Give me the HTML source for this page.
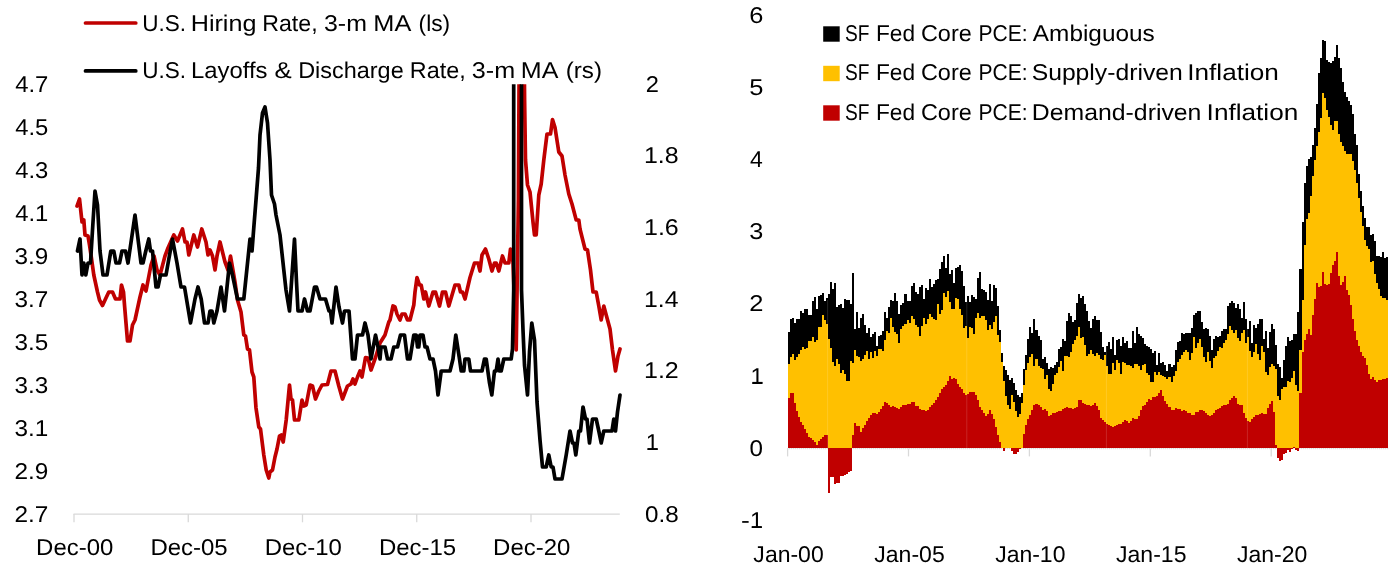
<!DOCTYPE html>
<html><head><meta charset="utf-8"><title>Charts</title>
<style>
html,body{margin:0;padding:0;background:#fff;}
body{width:1397px;height:572px;overflow:hidden;}
svg{display:block;}
text{font-family:"Liberation Sans",sans-serif;font-size:22.8px;fill:#000;text-rendering:geometricPrecision;}
</style></head><body>
<svg width="1397" height="572" viewBox="0 0 1397 572">
<rect width="1397" height="572" fill="#fff"/>
<defs><clipPath id="cl"><rect x="60" y="84.2" width="580" height="440"/></clipPath></defs>

<g stroke="#d9d9d9" stroke-width="1.3" fill="none">
<line x1="73.5" y1="514.1" x2="619.8" y2="514.1"/>
<line x1="74.00" y1="514.1" x2="74.00" y2="522.3"/>
<line x1="188.25" y1="514.1" x2="188.25" y2="522.3"/>
<line x1="302.50" y1="514.1" x2="302.50" y2="522.3"/>
<line x1="416.75" y1="514.1" x2="416.75" y2="522.3"/>
<line x1="531.00" y1="514.1" x2="531.00" y2="522.3"/>
</g>
<g clip-path="url(#cl)" fill="none" stroke-linejoin="round" stroke-linecap="round" stroke-width="3.7">
<polyline stroke="#c00000" points="77.0,206.0 79.5,199.0 82.0,222.0 83.8,220.0 85.0,235.0 88.0,236.0 89.5,245.0 91.0,255.0 93.8,275.0 97.5,292.0 99.5,300.0 102.5,305.5 105.5,299.0 108.8,292.0 112.5,292.0 115.5,299.0 120.0,299.0 121.5,285.0 123.5,292.0 124.5,305.0 127.5,341.0 130.0,341.0 132.5,325.0 135.0,320.0 140.0,297.0 143.0,285.0 146.0,291.0 151.0,265.0 154.0,256.0 157.0,270.0 160.0,275.0 165.0,256.0 168.0,248.0 173.8,235.0 177.5,241.0 182.5,229.0 185.0,242.0 187.0,242.0 188.8,255.0 193.8,235.0 197.5,247.0 201.8,229.0 206.0,242.0 208.0,255.0 210.0,250.0 212.5,256.0 215.0,270.0 217.0,256.0 220.0,242.0 225.0,262.0 228.0,270.0 230.5,256.0 235.0,282.0 237.5,300.0 241.0,312.0 243.8,335.0 245.5,336.0 247.5,349.0 249.5,350.0 252.0,372.0 253.8,377.0 256.0,408.0 258.8,427.0 260.5,429.0 263.8,455.0 266.2,470.0 268.8,478.0 270.0,472.0 272.5,470.0 275.0,457.0 277.0,449.0 279.5,436.0 281.2,435.0 283.2,442.0 286.2,420.0 289.5,385.0 291.0,399.0 292.5,400.0 294.5,420.0 298.8,420.0 302.0,400.0 303.8,406.0 306.2,405.0 310.0,385.0 312.5,386.0 315.5,399.0 318.8,391.0 322.0,385.0 327.5,384.5 331.0,371.0 335.0,371.0 338.8,386.0 342.5,399.0 347.5,386.0 351.0,384.0 353.0,379.0 355.0,384.0 357.5,377.0 360.0,371.0 362.0,377.0 365.5,357.5 368.0,358.0 371.0,370.0 375.5,357.5 380.0,343.0 385.0,335.0 388.8,322.0 390.0,320.0 393.0,306.0 395.0,307.0 397.0,314.0 400.0,320.0 402.0,314.0 405.0,314.0 407.5,320.0 410.0,320.0 413.8,305.0 415.0,292.0 417.0,277.5 419.5,285.0 421.2,285.0 423.8,299.0 425.5,292.0 428.8,306.0 433.0,292.0 435.5,292.0 439.5,306.0 442.5,292.0 445.5,292.0 448.8,306.0 455.0,285.0 458.8,285.0 460.5,292.0 462.5,292.0 465.0,299.0 470.0,277.5 474.5,263.0 478.0,263.0 480.0,271.0 482.0,255.0 485.5,249.0 488.8,259.0 492.0,271.0 494.5,263.0 496.2,263.0 498.8,271.0 502.5,256.0 505.0,263.0 508.8,263.0 510.5,249.0 513.0,262.0 516.2,350.0 518.4,200.0 519.3,40.0 524.0,40.0 524.6,100.0 525.5,160.0 527.5,185.0 530.0,192.0 533.0,222.0 534.5,235.0 536.2,235.0 538.8,195.0 541.2,184.0 543.8,160.0 547.0,134.0 550.5,134.0 552.5,119.5 555.0,127.5 558.8,152.0 562.0,156.0 565.0,175.0 568.8,194.0 572.0,204.0 576.2,220.0 578.8,220.0 580.0,229.0 585.0,249.0 587.5,250.0 590.5,270.0 593.0,292.0 596.2,292.0 598.8,306.0 601.2,320.0 603.8,306.0 606.2,315.0 610.0,329.0 612.5,350.0 615.5,371.0 618.0,356.0 620.0,349.0"/>
<polyline stroke="#000" points="77.5,251.0 80.0,239.0 82.0,275.0 83.8,263.0 85.8,275.0 88.0,263.0 90.5,263.0 93.0,222.0 95.0,191.0 97.5,205.0 100.0,251.0 103.0,275.0 107.0,275.0 110.8,251.0 113.8,251.0 116.0,263.0 119.5,263.0 122.0,251.0 125.5,251.0 128.0,263.0 131.5,239.0 135.0,215.0 138.0,239.0 141.0,263.0 143.0,263.0 145.8,251.0 148.8,239.0 150.5,251.0 152.5,251.0 156.0,287.0 158.0,287.0 160.5,275.0 166.0,275.0 169.0,258.0 172.5,239.0 177.0,263.0 181.0,287.0 184.5,287.0 190.5,323.0 195.0,299.0 198.0,287.0 201.2,299.0 204.5,323.0 208.0,323.0 210.0,311.0 212.0,311.0 213.8,323.0 217.0,311.0 221.0,287.0 224.5,311.0 229.5,263.0 232.5,275.0 237.5,299.0 243.8,299.0 250.0,239.0 252.0,251.0 254.0,225.0 256.0,200.0 258.5,168.0 260.0,135.0 262.5,113.0 265.0,107.0 267.5,123.0 270.0,160.0 271.5,195.0 274.5,204.0 276.0,215.0 280.0,235.0 283.8,270.0 286.0,290.0 289.5,311.0 292.0,275.0 294.5,239.0 296.5,282.0 298.0,311.0 302.0,311.0 304.5,299.0 307.5,311.0 310.0,311.0 314.5,287.0 316.5,287.0 320.0,299.0 325.5,299.0 329.0,311.0 330.5,311.0 332.0,323.0 336.0,287.0 339.0,307.0 342.5,323.0 344.5,311.0 349.0,311.0 352.5,359.0 355.0,359.0 357.5,335.0 362.5,335.0 365.0,323.0 368.0,335.0 371.0,359.0 375.5,335.0 378.0,347.0 380.0,359.0 381.0,347.0 385.0,347.0 387.5,359.0 391.0,359.0 393.8,347.0 397.5,347.0 400.5,335.0 404.5,335.0 407.5,359.0 410.0,359.0 413.8,335.0 416.2,335.0 417.5,347.0 418.8,347.0 420.0,335.0 423.0,335.0 425.0,347.0 427.0,347.0 430.0,359.0 433.0,359.0 435.5,371.0 438.0,395.0 441.2,371.0 450.0,371.0 453.0,359.0 455.8,335.0 459.5,359.0 461.2,371.0 463.8,371.0 465.0,359.0 468.8,359.0 470.5,371.0 482.0,371.0 484.5,359.0 486.2,359.0 489.5,383.0 491.8,395.0 494.5,371.0 496.2,371.0 498.0,359.0 499.5,371.0 501.2,371.0 503.8,359.0 511.2,359.0 512.5,349.0 513.7,290.0 513.7,40.0 521.5,40.0 521.5,290.0 523.0,330.0 524.5,365.0 527.5,395.0 529.5,352.0 531.8,323.0 534.5,340.0 537.0,402.0 540.0,440.0 542.5,467.0 546.2,467.0 548.8,455.0 551.2,467.0 553.0,467.0 555.0,479.0 562.0,479.0 566.2,455.0 570.0,431.0 572.5,443.0 574.0,443.0 575.8,455.0 578.8,431.0 580.5,431.0 583.0,407.0 585.5,419.0 587.0,419.0 589.5,443.0 592.5,419.0 596.2,419.0 598.8,431.0 601.2,443.0 603.8,431.0 612.0,431.0 613.8,419.0 615.5,431.0 617.5,412.0 620.0,395.0"/>
</g>
<g fill="none" stroke-linecap="round" stroke-width="3.7">
<line x1="85.5" y1="23" x2="135.8" y2="23" stroke="#c00000"/>
<line x1="85.5" y1="70.9" x2="135.8" y2="70.9" stroke="#000"/>
</g>
<g shape-rendering="crispEdges">
<path d="M787.60,448.0L787.60,331.7L789.62,331.7L789.62,319.3L791.63,319.3L791.63,318.1L793.65,318.1L793.65,322.5L795.66,322.5L795.66,319.0L797.68,319.0L797.68,318.9L799.69,318.9L799.69,310.9L801.71,310.9L801.71,312.7L803.72,312.7L803.72,309.0L805.74,309.0L805.74,308.8L807.75,308.8L807.75,315.0L809.77,315.0L809.77,315.2L811.78,315.2L811.78,301.2L813.80,301.2L813.80,296.5L815.81,296.5L815.81,308.8L817.83,308.8L817.83,296.1L819.84,296.1L819.84,294.7L821.86,294.7L821.86,292.9L823.88,292.9L823.88,300.8L825.89,300.8L825.89,298.4L827.91,298.4L827.91,293.9L829.92,293.9L829.92,282.3L831.94,282.3L831.94,289.0L833.95,289.0L833.95,283.4L835.97,283.4L835.97,307.2L837.98,307.2L837.98,305.0L840.00,305.0L840.00,303.6L842.01,303.6L842.01,308.0L844.03,308.0L844.03,299.4L846.04,299.4L846.04,299.6L848.06,299.6L848.06,300.4L850.07,300.4L850.07,304.3L852.09,304.3L852.09,272.6L854.10,272.6L854.10,328.7L856.12,328.7L856.12,312.4L858.14,312.4L858.14,327.6L860.15,327.6L860.15,317.7L862.17,317.7L862.17,313.5L864.18,313.5L864.18,325.2L866.20,325.2L866.20,333.4L868.21,333.4L868.21,328.2L870.23,328.2L870.23,336.9L872.24,336.9L872.24,333.5L874.26,333.5L874.26,332.4L876.27,332.4L876.27,346.2L878.29,346.2L878.29,335.9L880.30,335.9L880.30,334.6L882.32,334.6L882.32,331.3L884.33,331.3L884.33,312.0L886.35,312.0L886.35,318.0L888.37,318.0L888.37,306.9L890.38,306.9L890.38,299.9L892.40,299.9L892.40,301.4L894.41,301.4L894.41,292.9L896.43,292.9L896.43,300.8L898.44,300.8L898.44,314.4L900.46,314.4L900.46,305.2L902.47,305.2L902.47,302.9L904.49,302.9L904.49,294.0L906.50,294.0L906.50,301.4L908.52,301.4L908.52,300.7L910.53,300.7L910.53,285.7L912.55,285.7L912.55,283.1L914.56,283.1L914.56,292.0L916.58,292.0L916.58,294.2L918.59,294.2L918.59,287.2L920.61,287.2L920.61,284.7L922.63,284.7L922.63,298.5L924.64,298.5L924.64,287.5L926.66,287.5L926.66,290.0L928.67,290.0L928.67,278.8L930.69,278.8L930.69,287.3L932.70,287.3L932.70,283.6L934.72,283.6L934.72,280.3L936.73,280.3L936.73,279.4L938.75,279.4L938.75,269.2L940.76,269.2L940.76,262.4L942.78,262.4L942.78,255.8L944.79,255.8L944.79,267.7L946.81,267.7L946.81,253.6L948.82,253.6L948.82,274.3L950.84,274.3L950.84,270.2L952.85,270.2L952.85,282.6L954.87,282.6L954.87,268.3L956.89,268.3L956.89,267.4L958.90,267.4L958.90,265.4L960.92,265.4L960.92,271.4L962.93,271.4L962.93,285.7L964.95,285.7L964.95,302.1L966.96,302.1L966.96,296.0L968.98,296.0L968.98,302.0L970.99,302.0L970.99,294.5L973.01,294.5L973.01,296.6L975.02,296.6L975.02,298.5L977.04,298.5L977.04,277.5L979.05,277.5L979.05,272.2L981.07,272.2L981.07,289.4L983.08,289.4L983.08,290.4L985.10,290.4L985.10,292.4L987.11,292.4L987.11,300.2L989.13,300.2L989.13,284.1L991.15,284.1L991.15,301.4L993.16,301.4L993.16,284.9L995.18,284.9L995.18,288.0L997.19,288.0L997.19,305.9L999.21,305.9L999.21,330.1L1001.22,330.1L1001.22,353.3L1003.24,353.3L1003.24,365.9L1005.25,365.9L1005.25,370.0L1007.27,370.0L1007.27,375.3L1009.28,375.3L1009.28,379.6L1011.30,379.6L1011.30,377.6L1013.31,377.6L1013.31,383.4L1015.33,383.4L1015.33,389.9L1017.34,389.9L1017.34,395.4L1019.36,395.4L1019.36,397.0L1021.37,397.0L1021.37,392.7L1023.39,392.7L1023.39,368.6L1025.41,368.6L1025.41,355.4L1027.42,355.4L1027.42,339.4L1029.44,339.4L1029.44,327.3L1031.45,327.3L1031.45,333.1L1033.47,333.1L1033.47,318.9L1035.48,318.9L1035.48,330.2L1037.50,330.2L1037.50,335.7L1039.51,335.7L1039.51,340.2L1041.53,340.2L1041.53,358.7L1043.54,358.7L1043.54,356.9L1045.56,356.9L1045.56,362.9L1047.57,362.9L1047.57,368.8L1049.59,368.8L1049.59,366.7L1051.60,366.7L1051.60,368.4L1053.62,368.4L1053.62,364.7L1055.63,364.7L1055.63,362.3L1057.65,362.3L1057.65,349.2L1059.67,349.2L1059.67,347.1L1061.68,347.1L1061.68,339.0L1063.70,339.0L1063.70,341.1L1065.71,341.1L1065.71,320.8L1067.73,320.8L1067.73,312.8L1069.74,312.8L1069.74,315.7L1071.76,315.7L1071.76,321.6L1073.77,321.6L1073.77,320.3L1075.79,320.3L1075.79,303.1L1077.80,303.1L1077.80,293.8L1079.82,293.8L1079.82,298.1L1081.83,298.1L1081.83,295.9L1083.85,295.9L1083.85,304.4L1085.86,304.4L1085.86,311.1L1087.88,311.1L1087.88,320.7L1089.89,320.7L1089.89,327.7L1091.91,327.7L1091.91,318.7L1093.93,318.7L1093.93,315.5L1095.94,315.5L1095.94,319.5L1097.96,319.5L1097.96,320.2L1099.97,320.2L1099.97,331.9L1101.99,331.9L1101.99,347.3L1104.00,347.3L1104.00,352.0L1106.02,352.0L1106.02,346.2L1108.03,346.2L1108.03,342.3L1110.05,342.3L1110.05,349.0L1112.06,349.0L1112.06,336.5L1114.08,336.5L1114.08,354.5L1116.09,354.5L1116.09,339.5L1118.11,339.5L1118.11,338.6L1120.12,338.6L1120.12,346.1L1122.14,346.1L1122.14,336.7L1124.16,336.7L1124.16,343.3L1126.17,343.3L1126.17,340.7L1128.19,340.7L1128.19,348.1L1130.20,348.1L1130.20,348.2L1132.22,348.2L1132.22,330.5L1134.23,330.5L1134.23,342.8L1136.25,342.8L1136.25,327.0L1138.26,327.0L1138.26,333.8L1140.28,333.8L1140.28,336.0L1142.29,336.0L1142.29,337.6L1144.31,337.6L1144.31,343.5L1146.32,343.5L1146.32,345.5L1148.34,345.5L1148.34,346.6L1150.35,346.6L1150.35,348.9L1152.37,348.9L1152.37,353.1L1154.38,353.1L1154.38,350.8L1156.40,350.8L1156.40,364.5L1158.42,364.5L1158.42,352.9L1160.43,352.9L1160.43,363.4L1162.45,363.4L1162.45,362.2L1164.46,362.2L1164.46,365.3L1166.48,365.3L1166.48,370.6L1168.49,370.6L1168.49,364.2L1170.51,364.2L1170.51,367.3L1172.52,367.3L1172.52,365.1L1174.54,365.1L1174.54,350.2L1176.55,350.2L1176.55,341.9L1178.57,341.9L1178.57,341.1L1180.58,341.1L1180.58,333.2L1182.60,333.2L1182.60,333.7L1184.61,333.7L1184.61,333.4L1186.63,333.4L1186.63,332.5L1188.64,332.5L1188.64,332.6L1190.66,332.6L1190.66,328.3L1192.68,328.3L1192.68,315.3L1194.69,315.3L1194.69,313.3L1196.71,313.3L1196.71,311.2L1198.72,311.2L1198.72,310.6L1200.74,310.6L1200.74,322.3L1202.75,322.3L1202.75,329.4L1204.77,329.4L1204.77,328.3L1206.78,328.3L1206.78,328.9L1208.80,328.9L1208.80,336.3L1210.81,336.3L1210.81,349.8L1212.83,349.8L1212.83,339.1L1214.84,339.1L1214.84,336.1L1216.86,336.1L1216.86,337.1L1218.87,337.1L1218.87,335.6L1220.89,335.6L1220.89,330.6L1222.90,330.6L1222.90,328.5L1224.92,328.5L1224.92,328.8L1226.94,328.8L1226.94,305.5L1228.95,305.5L1228.95,303.2L1230.97,303.2L1230.97,301.3L1232.98,301.3L1232.98,303.2L1235.00,303.2L1235.00,308.4L1237.01,308.4L1237.01,303.7L1239.03,303.7L1239.03,309.2L1241.04,309.2L1241.04,318.2L1243.06,318.2L1243.06,302.0L1245.07,302.0L1245.07,318.9L1247.09,318.9L1247.09,328.6L1249.10,328.6L1249.10,320.7L1251.12,320.7L1251.12,343.4L1253.13,343.4L1253.13,325.0L1255.15,325.0L1255.15,328.0L1257.16,328.0L1257.16,324.2L1259.18,324.2L1259.18,319.2L1261.20,319.2L1261.20,318.5L1263.21,318.5L1263.21,339.3L1265.23,339.3L1265.23,331.0L1267.24,331.0L1267.24,348.2L1269.26,348.2L1269.26,331.8L1271.27,331.8L1271.27,324.4L1273.29,324.4L1273.29,329.1L1275.30,329.1L1275.30,344.9L1277.32,344.9L1277.32,364.0L1279.33,364.0L1279.33,366.9L1281.35,366.9L1281.35,378.1L1283.36,378.1L1283.36,359.7L1285.38,359.7L1285.38,346.4L1287.39,346.4L1287.39,336.8L1289.41,336.8L1289.41,340.9L1291.42,340.9L1291.42,339.8L1293.44,339.8L1293.44,333.7L1295.46,333.7L1295.46,334.1L1297.47,334.1L1297.47,312.4L1299.49,312.4L1299.49,269.1L1301.50,269.1L1301.50,222.1L1303.52,222.1L1303.52,182.9L1305.53,182.9L1305.53,165.7L1307.55,165.7L1307.55,159.2L1309.56,159.2L1309.56,157.0L1311.58,157.0L1311.58,145.0L1313.59,145.0L1313.59,127.9L1315.61,127.9L1315.61,103.9L1317.62,103.9L1317.62,72.8L1319.64,72.8L1319.64,57.5L1321.65,57.5L1321.65,40.4L1323.67,40.4L1323.67,40.9L1325.69,40.9L1325.69,60.0L1327.70,60.0L1327.70,62.3L1329.72,62.3L1329.72,62.8L1331.73,62.8L1331.73,61.2L1333.75,61.2L1333.75,56.6L1335.76,56.6L1335.76,44.9L1337.78,44.9L1337.78,57.6L1339.79,57.6L1339.79,68.1L1341.81,68.1L1341.81,81.7L1343.82,81.7L1343.82,92.1L1345.84,92.1L1345.84,96.6L1347.85,96.6L1347.85,101.1L1349.87,101.1L1349.87,105.3L1351.88,105.3L1351.88,113.5L1353.90,113.5L1353.90,133.6L1355.91,133.6L1355.91,144.5L1357.93,144.5L1357.93,173.8L1359.95,173.8L1359.95,190.8L1361.96,190.8L1361.96,205.9L1363.98,205.9L1363.98,218.0L1365.99,218.0L1365.99,226.6L1368.01,226.6L1368.01,227.2L1370.02,227.2L1370.02,234.5L1372.04,234.5L1372.04,234.0L1374.05,234.0L1374.05,241.3L1376.07,241.3L1376.07,255.6L1378.08,255.6L1378.08,255.6L1380.10,255.6L1380.10,257.1L1382.11,257.1L1382.11,251.9L1384.13,251.9L1384.13,257.5L1386.14,257.5L1386.14,257.3L1388.16,257.3L1388.16,257.2L1388.20,257.2L1388.20,448.0Z" fill="#000"/>
<path d="M787.60,448.0L787.60,363.9L789.62,363.9L789.62,356.5L791.63,356.5L791.63,354.2L793.65,354.2L793.65,359.9L795.66,359.9L795.66,356.9L797.68,356.9L797.68,353.8L799.69,353.8L799.69,349.6L801.71,349.6L801.71,346.9L803.72,346.9L803.72,348.8L805.74,348.8L805.74,347.6L807.75,347.6L807.75,341.2L809.77,341.2L809.77,340.8L811.78,340.8L811.78,337.0L813.80,337.0L813.80,342.0L815.81,342.0L815.81,340.0L817.83,340.0L817.83,326.8L819.84,326.8L819.84,327.1L821.86,327.1L821.86,315.0L823.88,315.0L823.88,320.0L825.89,320.0L825.89,323.7L827.91,323.7L827.91,338.9L829.92,338.9L829.92,347.6L831.94,347.6L831.94,362.1L833.95,362.1L833.95,365.7L835.97,365.7L835.97,359.4L837.98,359.4L837.98,363.7L840.00,363.7L840.00,373.4L842.01,373.4L842.01,369.9L844.03,369.9L844.03,373.8L846.04,373.8L846.04,380.6L848.06,380.6L848.06,380.8L850.07,380.8L850.07,361.0L852.09,361.0L852.09,363.0L854.10,363.0L854.10,349.8L856.12,349.8L856.12,356.0L858.14,356.0L858.14,357.4L860.15,357.4L860.15,360.5L862.17,360.5L862.17,358.6L864.18,358.6L864.18,354.7L866.20,354.7L866.20,350.9L868.21,350.9L868.21,358.5L870.23,358.5L870.23,352.1L872.24,352.1L872.24,357.9L874.26,357.9L874.26,350.8L876.27,350.8L876.27,356.4L878.29,356.4L878.29,349.2L880.30,349.2L880.30,348.5L882.32,348.5L882.32,351.3L884.33,351.3L884.33,340.4L886.35,340.4L886.35,331.3L888.37,331.3L888.37,332.5L890.38,332.5L890.38,318.1L892.40,318.1L892.40,326.9L894.41,326.9L894.41,332.0L896.43,332.0L896.43,333.9L898.44,333.9L898.44,343.2L900.46,343.2L900.46,329.0L902.47,329.0L902.47,325.7L904.49,325.7L904.49,324.0L906.50,324.0L906.50,319.5L908.52,319.5L908.52,323.4L910.53,323.4L910.53,316.0L912.55,316.0L912.55,319.3L914.56,319.3L914.56,325.3L916.58,325.3L916.58,327.2L918.59,327.2L918.59,335.5L920.61,335.5L920.61,326.1L922.63,326.1L922.63,318.2L924.64,318.2L924.64,323.7L926.66,323.7L926.66,318.7L928.67,318.7L928.67,313.6L930.69,313.6L930.69,316.7L932.70,316.7L932.70,318.6L934.72,318.6L934.72,319.5L936.73,319.5L936.73,303.8L938.75,303.8L938.75,313.6L940.76,313.6L940.76,309.5L942.78,309.5L942.78,292.5L944.79,292.5L944.79,297.2L946.81,297.2L946.81,290.5L948.82,290.5L948.82,301.7L950.84,301.7L950.84,308.7L952.85,308.7L952.85,308.5L954.87,308.5L954.87,298.0L956.89,298.0L956.89,299.0L958.90,299.0L958.90,309.3L960.92,309.3L960.92,315.1L962.93,315.1L962.93,327.5L964.95,327.5L964.95,325.6L966.96,325.6L966.96,337.7L968.98,337.7L968.98,327.1L970.99,327.1L970.99,327.5L973.01,327.5L973.01,333.6L975.02,333.6L975.02,318.4L977.04,318.4L977.04,312.8L979.05,312.8L979.05,317.9L981.07,317.9L981.07,315.9L983.08,315.9L983.08,315.5L985.10,315.5L985.10,320.3L987.11,320.3L987.11,329.5L989.13,329.5L989.13,325.2L991.15,325.2L991.15,329.0L993.16,329.0L993.16,322.0L995.18,322.0L995.18,316.2L997.19,316.2L997.19,335.2L999.21,335.2L999.21,342.1L1001.22,342.1L1001.22,361.5L1003.24,361.5L1003.24,380.5L1005.25,380.5L1005.25,395.7L1007.27,395.7L1007.27,405.1L1009.28,405.1L1009.28,409.1L1011.30,409.1L1011.30,395.1L1013.31,395.1L1013.31,402.1L1015.33,402.1L1015.33,411.0L1017.34,411.0L1017.34,417.2L1019.36,417.2L1019.36,414.3L1021.37,414.3L1021.37,402.7L1023.39,402.7L1023.39,384.7L1025.41,384.7L1025.41,369.6L1027.42,369.6L1027.42,363.2L1029.44,363.2L1029.44,356.5L1031.45,356.5L1031.45,353.8L1033.47,353.8L1033.47,365.7L1035.48,365.7L1035.48,358.5L1037.50,358.5L1037.50,366.4L1039.51,366.4L1039.51,368.3L1041.53,368.3L1041.53,369.2L1043.54,369.2L1043.54,378.7L1045.56,378.7L1045.56,374.8L1047.57,374.8L1047.57,389.1L1049.59,389.1L1049.59,391.2L1051.60,391.2L1051.60,383.5L1053.62,383.5L1053.62,374.7L1055.63,374.7L1055.63,373.2L1057.65,373.2L1057.65,366.7L1059.67,366.7L1059.67,360.8L1061.68,360.8L1061.68,370.9L1063.70,370.9L1063.70,355.6L1065.71,355.6L1065.71,356.0L1067.73,356.0L1067.73,357.2L1069.74,357.2L1069.74,351.9L1071.76,351.9L1071.76,343.9L1073.77,343.9L1073.77,340.0L1075.79,340.0L1075.79,335.7L1077.80,335.7L1077.80,326.8L1079.82,326.8L1079.82,337.9L1081.83,337.9L1081.83,337.1L1083.85,337.1L1083.85,345.4L1085.86,345.4L1085.86,355.5L1087.88,355.5L1087.88,353.7L1089.89,353.7L1089.89,350.0L1091.91,350.0L1091.91,353.7L1093.93,353.7L1093.93,355.6L1095.94,355.6L1095.94,353.3L1097.96,353.3L1097.96,355.1L1099.97,355.1L1099.97,359.0L1101.99,359.0L1101.99,360.1L1104.00,360.1L1104.00,355.0L1106.02,355.0L1106.02,365.5L1108.03,365.5L1108.03,374.3L1110.05,374.3L1110.05,374.0L1112.06,374.0L1112.06,363.4L1114.08,363.4L1114.08,369.6L1116.09,369.6L1116.09,360.4L1118.11,360.4L1118.11,362.6L1120.12,362.6L1120.12,373.5L1122.14,373.5L1122.14,361.8L1124.16,361.8L1124.16,363.1L1126.17,363.1L1126.17,364.9L1128.19,364.9L1128.19,365.0L1130.20,365.0L1130.20,366.3L1132.22,366.3L1132.22,368.0L1134.23,368.0L1134.23,363.9L1136.25,363.9L1136.25,363.9L1138.26,363.9L1138.26,365.6L1140.28,365.6L1140.28,370.2L1142.29,370.2L1142.29,364.5L1144.31,364.5L1144.31,363.5L1146.32,363.5L1146.32,373.4L1148.34,373.4L1148.34,374.7L1150.35,374.7L1150.35,381.7L1152.37,381.7L1152.37,381.7L1154.38,381.7L1154.38,372.1L1156.40,372.1L1156.40,374.8L1158.42,374.8L1158.42,371.6L1160.43,371.6L1160.43,375.0L1162.45,375.0L1162.45,376.1L1164.46,376.1L1164.46,376.6L1166.48,376.6L1166.48,379.4L1168.49,379.4L1168.49,376.5L1170.51,376.5L1170.51,382.3L1172.52,382.3L1172.52,376.3L1174.54,376.3L1174.54,370.7L1176.55,370.7L1176.55,362.4L1178.57,362.4L1178.57,359.3L1180.58,359.3L1180.58,354.9L1182.60,354.9L1182.60,352.1L1184.61,352.1L1184.61,349.9L1186.63,349.9L1186.63,351.8L1188.64,351.8L1188.64,359.8L1190.66,359.8L1190.66,352.9L1192.68,352.9L1192.68,336.8L1194.69,336.8L1194.69,348.4L1196.71,348.4L1196.71,343.2L1198.72,343.2L1198.72,338.9L1200.74,338.9L1200.74,346.9L1202.75,346.9L1202.75,356.8L1204.77,356.8L1204.77,361.5L1206.78,361.5L1206.78,352.0L1208.80,352.0L1208.80,361.0L1210.81,361.0L1210.81,367.5L1212.83,367.5L1212.83,358.1L1214.84,358.1L1214.84,355.6L1216.86,355.6L1216.86,351.0L1218.87,351.0L1218.87,347.1L1220.89,347.1L1220.89,347.6L1222.90,347.6L1222.90,342.9L1224.92,342.9L1224.92,339.9L1226.94,339.9L1226.94,334.3L1228.95,334.3L1228.95,326.4L1230.97,326.4L1230.97,329.9L1232.98,329.9L1232.98,332.5L1235.00,332.5L1235.00,329.6L1237.01,329.6L1237.01,338.2L1239.03,338.2L1239.03,341.4L1241.04,341.4L1241.04,333.3L1243.06,333.3L1243.06,329.7L1245.07,329.7L1245.07,343.4L1247.09,343.4L1247.09,337.3L1249.10,337.3L1249.10,350.9L1251.12,350.9L1251.12,356.5L1253.13,356.5L1253.13,352.0L1255.15,352.0L1255.15,344.4L1257.16,344.4L1257.16,353.6L1259.18,353.6L1259.18,360.1L1261.20,360.1L1261.20,345.6L1263.21,345.6L1263.21,351.8L1265.23,351.8L1265.23,371.8L1267.24,371.8L1267.24,375.0L1269.26,375.0L1269.26,366.9L1271.27,366.9L1271.27,363.5L1273.29,363.5L1273.29,366.4L1275.30,366.4L1275.30,369.0L1277.32,369.0L1277.32,396.0L1279.33,396.0L1279.33,399.8L1281.35,399.8L1281.35,388.5L1283.36,388.5L1283.36,387.0L1285.38,387.0L1285.38,387.3L1287.39,387.3L1287.39,381.4L1289.41,381.4L1289.41,381.8L1291.42,381.8L1291.42,377.7L1293.44,377.7L1293.44,371.3L1295.46,371.3L1295.46,384.8L1297.47,384.8L1297.47,390.6L1299.49,390.6L1299.49,350.3L1301.50,350.3L1301.50,299.9L1303.52,299.9L1303.52,245.0L1305.53,245.0L1305.53,219.4L1307.55,219.4L1307.55,212.9L1309.56,212.9L1309.56,196.1L1311.58,196.1L1311.58,175.9L1313.59,175.9L1313.59,160.0L1315.61,160.0L1315.61,146.1L1317.62,146.1L1317.62,131.9L1319.64,131.9L1319.64,118.1L1321.65,118.1L1321.65,93.4L1323.67,93.4L1323.67,97.8L1325.69,97.8L1325.69,110.2L1327.70,110.2L1327.70,116.8L1329.72,116.8L1329.72,124.7L1331.73,124.7L1331.73,129.6L1333.75,129.6L1333.75,120.8L1335.76,120.8L1335.76,120.5L1337.78,120.5L1337.78,134.3L1339.79,134.3L1339.79,142.1L1341.81,142.1L1341.81,146.4L1343.82,146.4L1343.82,151.0L1345.84,151.0L1345.84,153.5L1347.85,153.5L1347.85,153.7L1349.87,153.7L1349.87,153.7L1351.88,153.7L1351.88,160.6L1353.90,160.6L1353.90,170.2L1355.91,170.2L1355.91,182.6L1357.93,182.6L1357.93,197.6L1359.95,197.6L1359.95,212.0L1361.96,212.0L1361.96,225.6L1363.98,225.6L1363.98,239.5L1365.99,239.5L1365.99,246.2L1368.01,246.2L1368.01,248.9L1370.02,248.9L1370.02,261.7L1372.04,261.7L1372.04,260.9L1374.05,260.9L1374.05,274.4L1376.07,274.4L1376.07,283.2L1378.08,283.2L1378.08,288.8L1380.10,288.8L1380.10,296.3L1382.11,296.3L1382.11,297.7L1384.13,297.7L1384.13,298.2L1386.14,298.2L1386.14,300.1L1388.16,300.1L1388.16,299.2L1388.20,299.2L1388.20,448.0Z" fill="#ffc000"/>
<path d="M787.60,448.0L787.60,398.0L789.62,398.0L789.62,393.2L791.63,393.2L791.63,392.5L793.65,392.5L793.65,402.8L795.66,402.8L795.66,411.3L797.68,411.3L797.68,416.7L799.69,416.7L799.69,421.6L801.71,421.6L801.71,425.0L803.72,425.0L803.72,429.4L805.74,429.4L805.74,433.3L807.75,433.3L807.75,436.6L809.77,436.6L809.77,438.0L811.78,438.0L811.78,440.0L813.80,440.0L813.80,442.0L815.81,442.0L815.81,444.6L817.83,444.6L817.83,441.4L819.84,441.4L819.84,438.5L821.86,438.5L821.86,436.8L823.88,436.8L823.88,435.1L825.89,435.1L825.89,435.3L827.91,435.3L827.91,448.0L829.92,448.0L829.92,448.0L831.94,448.0L831.94,448.0L833.95,448.0L833.95,448.0L835.97,448.0L835.97,448.0L837.98,448.0L837.98,448.0L840.00,448.0L840.00,448.0L842.01,448.0L842.01,448.0L844.03,448.0L844.03,448.0L846.04,448.0L846.04,448.0L848.06,448.0L848.06,448.0L850.07,448.0L850.07,448.0L852.09,448.0L852.09,435.0L854.10,435.0L854.10,422.7L856.12,422.7L856.12,426.2L858.14,426.2L858.14,425.6L860.15,425.6L860.15,431.5L862.17,431.5L862.17,427.7L864.18,427.7L864.18,425.4L866.20,425.4L866.20,421.3L868.21,421.3L868.21,418.4L870.23,418.4L870.23,415.1L872.24,415.1L872.24,412.8L874.26,412.8L874.26,413.2L876.27,413.2L876.27,414.4L878.29,414.4L878.29,412.1L880.30,412.1L880.30,409.3L882.32,409.3L882.32,405.5L884.33,405.5L884.33,402.0L886.35,402.0L886.35,403.0L888.37,403.0L888.37,405.3L890.38,405.3L890.38,406.5L892.40,406.5L892.40,406.3L894.41,406.3L894.41,407.0L896.43,407.0L896.43,408.1L898.44,408.1L898.44,408.5L900.46,408.5L900.46,406.7L902.47,406.7L902.47,405.1L904.49,405.1L904.49,405.4L906.50,405.4L906.50,404.2L908.52,404.2L908.52,403.6L910.53,403.6L910.53,401.6L912.55,401.6L912.55,402.3L914.56,402.3L914.56,405.8L916.58,405.8L916.58,406.1L918.59,406.1L918.59,408.5L920.61,408.5L920.61,409.8L922.63,409.8L922.63,410.3L924.64,410.3L924.64,411.2L926.66,411.2L926.66,409.5L928.67,409.5L928.67,407.0L930.69,407.0L930.69,404.7L932.70,404.7L932.70,402.7L934.72,402.7L934.72,400.2L936.73,400.2L936.73,397.0L938.75,397.0L938.75,393.1L940.76,393.1L940.76,389.0L942.78,389.0L942.78,386.8L944.79,386.8L944.79,384.9L946.81,384.9L946.81,380.9L948.82,380.9L948.82,376.3L950.84,376.3L950.84,378.5L952.85,378.5L952.85,378.0L954.87,378.0L954.87,379.1L956.89,379.1L956.89,384.1L958.90,384.1L958.90,386.5L960.92,386.5L960.92,389.4L962.93,389.4L962.93,392.7L964.95,392.7L964.95,394.7L966.96,394.7L966.96,394.3L968.98,394.3L968.98,392.3L970.99,392.3L970.99,391.5L973.01,391.5L973.01,391.8L975.02,391.8L975.02,394.8L977.04,394.8L977.04,399.8L979.05,399.8L979.05,406.7L981.07,406.7L981.07,409.5L983.08,409.5L983.08,412.9L985.10,412.9L985.10,415.6L987.11,415.6L987.11,414.2L989.13,414.2L989.13,410.0L991.15,410.0L991.15,414.3L993.16,414.3L993.16,418.5L995.18,418.5L995.18,427.4L997.19,427.4L997.19,435.3L999.21,435.3L999.21,442.4L1001.22,442.4L1001.22,448.0L1003.24,448.0L1003.24,448.0L1005.25,448.0L1005.25,447.7L1007.27,447.7L1007.27,448.0L1009.28,448.0L1009.28,447.9L1011.30,447.9L1011.30,448.0L1013.31,448.0L1013.31,448.0L1015.33,448.0L1015.33,448.0L1017.34,448.0L1017.34,448.0L1019.36,448.0L1019.36,448.0L1021.37,448.0L1021.37,448.0L1023.39,448.0L1023.39,433.7L1025.41,433.7L1025.41,424.8L1027.42,424.8L1027.42,418.5L1029.44,418.5L1029.44,414.9L1031.45,414.9L1031.45,410.2L1033.47,410.2L1033.47,405.0L1035.48,405.0L1035.48,403.9L1037.50,403.9L1037.50,404.5L1039.51,404.5L1039.51,406.9L1041.53,406.9L1041.53,409.8L1043.54,409.8L1043.54,409.3L1045.56,409.3L1045.56,411.3L1047.57,411.3L1047.57,416.1L1049.59,416.1L1049.59,414.8L1051.60,414.8L1051.60,412.5L1053.62,412.5L1053.62,412.9L1055.63,412.9L1055.63,412.1L1057.65,412.1L1057.65,411.3L1059.67,411.3L1059.67,410.5L1061.68,410.5L1061.68,408.6L1063.70,408.6L1063.70,408.0L1065.71,408.0L1065.71,407.3L1067.73,407.3L1067.73,407.5L1069.74,407.5L1069.74,408.2L1071.76,408.2L1071.76,408.8L1073.77,408.8L1073.77,407.9L1075.79,407.9L1075.79,407.1L1077.80,407.1L1077.80,400.2L1079.82,400.2L1079.82,399.9L1081.83,399.9L1081.83,403.4L1083.85,403.4L1083.85,403.7L1085.86,403.7L1085.86,405.0L1087.88,405.0L1087.88,404.5L1089.89,404.5L1089.89,405.7L1091.91,405.7L1091.91,405.4L1093.93,405.4L1093.93,403.0L1095.94,403.0L1095.94,406.1L1097.96,406.1L1097.96,410.4L1099.97,410.4L1099.97,417.7L1101.99,417.7L1101.99,420.4L1104.00,420.4L1104.00,421.6L1106.02,421.6L1106.02,423.6L1108.03,423.6L1108.03,424.8L1110.05,424.8L1110.05,426.4L1112.06,426.4L1112.06,426.5L1114.08,426.5L1114.08,426.0L1116.09,426.0L1116.09,424.6L1118.11,424.6L1118.11,424.4L1120.12,424.4L1120.12,424.4L1122.14,424.4L1122.14,422.2L1124.16,422.2L1124.16,420.1L1126.17,420.1L1126.17,420.7L1128.19,420.7L1128.19,422.8L1130.20,422.8L1130.20,421.0L1132.22,421.0L1132.22,418.1L1134.23,418.1L1134.23,419.3L1136.25,419.3L1136.25,419.0L1138.26,419.0L1138.26,415.7L1140.28,415.7L1140.28,409.9L1142.29,409.9L1142.29,405.9L1144.31,405.9L1144.31,404.7L1146.32,404.7L1146.32,402.0L1148.34,402.0L1148.34,399.4L1150.35,399.4L1150.35,399.5L1152.37,399.5L1152.37,397.3L1154.38,397.3L1154.38,396.7L1156.40,396.7L1156.40,396.1L1158.42,396.1L1158.42,392.7L1160.43,392.7L1160.43,389.9L1162.45,389.9L1162.45,396.2L1164.46,396.2L1164.46,400.6L1166.48,400.6L1166.48,403.9L1168.49,403.9L1168.49,406.6L1170.51,406.6L1170.51,409.8L1172.52,409.8L1172.52,409.8L1174.54,409.8L1174.54,407.9L1176.55,407.9L1176.55,408.8L1178.57,408.8L1178.57,409.3L1180.58,409.3L1180.58,411.0L1182.60,411.0L1182.60,410.4L1184.61,410.4L1184.61,411.1L1186.63,411.1L1186.63,412.8L1188.64,412.8L1188.64,413.2L1190.66,413.2L1190.66,415.2L1192.68,415.2L1192.68,415.0L1194.69,415.0L1194.69,412.3L1196.71,412.3L1196.71,411.8L1198.72,411.8L1198.72,410.4L1200.74,410.4L1200.74,409.8L1202.75,409.8L1202.75,411.0L1204.77,411.0L1204.77,413.1L1206.78,413.1L1206.78,415.1L1208.80,415.1L1208.80,415.5L1210.81,415.5L1210.81,414.5L1212.83,414.5L1212.83,412.5L1214.84,412.5L1214.84,410.4L1216.86,410.4L1216.86,408.9L1218.87,408.9L1218.87,408.3L1220.89,408.3L1220.89,406.4L1222.90,406.4L1222.90,404.7L1224.92,404.7L1224.92,405.3L1226.94,405.3L1226.94,404.0L1228.95,404.0L1228.95,400.1L1230.97,400.1L1230.97,398.2L1232.98,398.2L1232.98,395.7L1235.00,395.7L1235.00,397.9L1237.01,397.9L1237.01,403.5L1239.03,403.5L1239.03,405.0L1241.04,405.0L1241.04,404.8L1243.06,404.8L1243.06,412.6L1245.07,412.6L1245.07,418.3L1247.09,418.3L1247.09,420.7L1249.10,420.7L1249.10,422.1L1251.12,422.1L1251.12,418.7L1253.13,418.7L1253.13,416.5L1255.15,416.5L1255.15,414.5L1257.16,414.5L1257.16,414.9L1259.18,414.9L1259.18,413.6L1261.20,413.6L1261.20,413.2L1263.21,413.2L1263.21,414.3L1265.23,414.3L1265.23,414.0L1267.24,414.0L1267.24,408.1L1269.26,408.1L1269.26,403.5L1271.27,403.5L1271.27,401.4L1273.29,401.4L1273.29,411.6L1275.30,411.6L1275.30,445.2L1277.32,445.2L1277.32,448.0L1279.33,448.0L1279.33,448.0L1281.35,448.0L1281.35,448.0L1283.36,448.0L1283.36,448.0L1285.38,448.0L1285.38,448.0L1287.39,448.0L1287.39,448.0L1289.41,448.0L1289.41,448.0L1291.42,448.0L1291.42,448.0L1293.44,448.0L1293.44,447.3L1295.46,447.3L1295.46,448.0L1297.47,448.0L1297.47,448.0L1299.49,448.0L1299.49,393.2L1301.50,393.2L1301.50,352.4L1303.52,352.4L1303.52,339.9L1305.53,339.9L1305.53,333.5L1307.55,333.5L1307.55,328.8L1309.56,328.8L1309.56,335.0L1311.58,335.0L1311.58,314.7L1313.59,314.7L1313.59,299.1L1315.61,299.1L1315.61,282.5L1317.62,282.5L1317.62,286.9L1319.64,286.9L1319.64,285.8L1321.65,285.8L1321.65,271.6L1323.67,271.6L1323.67,284.2L1325.69,284.2L1325.69,285.2L1327.70,285.2L1327.70,284.1L1329.72,284.1L1329.72,273.4L1331.73,273.4L1331.73,265.4L1333.75,265.4L1333.75,260.5L1335.76,260.5L1335.76,252.0L1337.78,252.0L1337.78,275.6L1339.79,275.6L1339.79,284.8L1341.81,284.8L1341.81,282.2L1343.82,282.2L1343.82,276.2L1345.84,276.2L1345.84,290.4L1347.85,290.4L1347.85,295.3L1349.87,295.3L1349.87,305.0L1351.88,305.0L1351.88,319.0L1353.90,319.0L1353.90,331.4L1355.91,331.4L1355.91,340.3L1357.93,340.3L1357.93,346.4L1359.95,346.4L1359.95,351.7L1361.96,351.7L1361.96,356.2L1363.98,356.2L1363.98,358.2L1365.99,358.2L1365.99,364.7L1368.01,364.7L1368.01,374.1L1370.02,374.1L1370.02,378.8L1372.04,378.8L1372.04,377.4L1374.05,377.4L1374.05,379.7L1376.07,379.7L1376.07,382.1L1378.08,382.1L1378.08,379.7L1380.10,379.7L1380.10,379.6L1382.11,379.6L1382.11,379.1L1384.13,379.1L1384.13,378.7L1386.14,378.7L1386.14,377.5L1388.16,377.5L1388.16,378.5L1388.20,378.5L1388.20,448.0Z" fill="#c00000"/>
<path d="M787.60,448.0L787.60,448.0L789.62,448.0L789.62,448.0L791.63,448.0L791.63,448.0L793.65,448.0L793.65,448.0L795.66,448.0L795.66,448.0L797.68,448.0L797.68,448.0L799.69,448.0L799.69,448.0L801.71,448.0L801.71,448.0L803.72,448.0L803.72,448.0L805.74,448.0L805.74,448.0L807.75,448.0L807.75,448.0L809.77,448.0L809.77,448.0L811.78,448.0L811.78,448.0L813.80,448.0L813.80,448.0L815.81,448.0L815.81,448.0L817.83,448.0L817.83,448.0L819.84,448.0L819.84,448.0L821.86,448.0L821.86,448.0L823.88,448.0L823.88,448.0L825.89,448.0L825.89,448.0L827.91,448.0L827.91,493.0L829.92,493.0L829.92,476.6L831.94,476.6L831.94,477.2L833.95,477.2L833.95,484.0L835.97,484.0L835.97,483.0L837.98,483.0L837.98,483.0L840.00,483.0L840.00,475.9L842.01,475.9L842.01,475.5L844.03,475.5L844.03,475.0L846.04,475.0L846.04,474.1L848.06,474.1L848.06,472.4L850.07,472.4L850.07,470.8L852.09,470.8L852.09,448.0L854.10,448.0L854.10,448.0L856.12,448.0L856.12,448.0L858.14,448.0L858.14,448.0L860.15,448.0L860.15,448.0L862.17,448.0L862.17,448.0L864.18,448.0L864.18,448.0L866.20,448.0L866.20,448.0L868.21,448.0L868.21,448.0L870.23,448.0L870.23,448.0L872.24,448.0L872.24,448.0L874.26,448.0L874.26,448.0L876.27,448.0L876.27,448.0L878.29,448.0L878.29,448.0L880.30,448.0L880.30,448.0L882.32,448.0L882.32,448.0L884.33,448.0L884.33,448.0L886.35,448.0L886.35,448.0L888.37,448.0L888.37,448.0L890.38,448.0L890.38,448.0L892.40,448.0L892.40,448.0L894.41,448.0L894.41,448.0L896.43,448.0L896.43,448.0L898.44,448.0L898.44,448.0L900.46,448.0L900.46,448.0L902.47,448.0L902.47,448.0L904.49,448.0L904.49,448.0L906.50,448.0L906.50,448.0L908.52,448.0L908.52,448.0L910.53,448.0L910.53,448.0L912.55,448.0L912.55,448.0L914.56,448.0L914.56,448.0L916.58,448.0L916.58,448.0L918.59,448.0L918.59,448.0L920.61,448.0L920.61,448.0L922.63,448.0L922.63,448.0L924.64,448.0L924.64,448.0L926.66,448.0L926.66,448.0L928.67,448.0L928.67,448.0L930.69,448.0L930.69,448.0L932.70,448.0L932.70,448.0L934.72,448.0L934.72,448.0L936.73,448.0L936.73,448.0L938.75,448.0L938.75,448.0L940.76,448.0L940.76,448.0L942.78,448.0L942.78,448.0L944.79,448.0L944.79,448.0L946.81,448.0L946.81,448.0L948.82,448.0L948.82,448.0L950.84,448.0L950.84,448.0L952.85,448.0L952.85,448.0L954.87,448.0L954.87,448.0L956.89,448.0L956.89,448.0L958.90,448.0L958.90,448.0L960.92,448.0L960.92,448.0L962.93,448.0L962.93,448.0L964.95,448.0L964.95,448.0L966.96,448.0L966.96,448.0L968.98,448.0L968.98,448.0L970.99,448.0L970.99,448.0L973.01,448.0L973.01,448.0L975.02,448.0L975.02,448.0L977.04,448.0L977.04,448.0L979.05,448.0L979.05,448.0L981.07,448.0L981.07,448.0L983.08,448.0L983.08,448.0L985.10,448.0L985.10,448.0L987.11,448.0L987.11,448.0L989.13,448.0L989.13,448.0L991.15,448.0L991.15,448.0L993.16,448.0L993.16,448.0L995.18,448.0L995.18,448.0L997.19,448.0L997.19,448.0L999.21,448.0L999.21,448.0L1001.22,448.0L1001.22,448.0L1003.24,448.0L1003.24,451.0L1005.25,451.0L1005.25,448.0L1007.27,448.0L1007.27,448.0L1009.28,448.0L1009.28,448.0L1011.30,448.0L1011.30,451.4L1013.31,451.4L1013.31,454.1L1015.33,454.1L1015.33,453.7L1017.34,453.7L1017.34,451.6L1019.36,451.6L1019.36,449.3L1021.37,449.3L1021.37,448.0L1023.39,448.0L1023.39,448.0L1025.41,448.0L1025.41,448.0L1027.42,448.0L1027.42,448.0L1029.44,448.0L1029.44,448.0L1031.45,448.0L1031.45,448.0L1033.47,448.0L1033.47,448.0L1035.48,448.0L1035.48,448.0L1037.50,448.0L1037.50,448.0L1039.51,448.0L1039.51,448.0L1041.53,448.0L1041.53,448.0L1043.54,448.0L1043.54,448.0L1045.56,448.0L1045.56,448.0L1047.57,448.0L1047.57,448.0L1049.59,448.0L1049.59,448.0L1051.60,448.0L1051.60,448.0L1053.62,448.0L1053.62,448.0L1055.63,448.0L1055.63,448.0L1057.65,448.0L1057.65,448.0L1059.67,448.0L1059.67,448.0L1061.68,448.0L1061.68,448.0L1063.70,448.0L1063.70,448.0L1065.71,448.0L1065.71,448.0L1067.73,448.0L1067.73,448.0L1069.74,448.0L1069.74,448.0L1071.76,448.0L1071.76,448.0L1073.77,448.0L1073.77,448.0L1075.79,448.0L1075.79,448.0L1077.80,448.0L1077.80,448.0L1079.82,448.0L1079.82,448.0L1081.83,448.0L1081.83,448.0L1083.85,448.0L1083.85,448.0L1085.86,448.0L1085.86,448.0L1087.88,448.0L1087.88,448.0L1089.89,448.0L1089.89,448.0L1091.91,448.0L1091.91,448.0L1093.93,448.0L1093.93,448.0L1095.94,448.0L1095.94,448.0L1097.96,448.0L1097.96,448.0L1099.97,448.0L1099.97,448.0L1101.99,448.0L1101.99,448.0L1104.00,448.0L1104.00,448.0L1106.02,448.0L1106.02,448.0L1108.03,448.0L1108.03,448.0L1110.05,448.0L1110.05,448.0L1112.06,448.0L1112.06,448.0L1114.08,448.0L1114.08,448.0L1116.09,448.0L1116.09,448.0L1118.11,448.0L1118.11,448.0L1120.12,448.0L1120.12,448.0L1122.14,448.0L1122.14,448.0L1124.16,448.0L1124.16,448.0L1126.17,448.0L1126.17,448.0L1128.19,448.0L1128.19,448.0L1130.20,448.0L1130.20,448.0L1132.22,448.0L1132.22,448.0L1134.23,448.0L1134.23,448.0L1136.25,448.0L1136.25,448.0L1138.26,448.0L1138.26,448.0L1140.28,448.0L1140.28,448.0L1142.29,448.0L1142.29,448.0L1144.31,448.0L1144.31,448.0L1146.32,448.0L1146.32,448.0L1148.34,448.0L1148.34,448.0L1150.35,448.0L1150.35,448.0L1152.37,448.0L1152.37,448.0L1154.38,448.0L1154.38,448.0L1156.40,448.0L1156.40,448.0L1158.42,448.0L1158.42,448.0L1160.43,448.0L1160.43,448.0L1162.45,448.0L1162.45,448.0L1164.46,448.0L1164.46,448.0L1166.48,448.0L1166.48,448.0L1168.49,448.0L1168.49,448.0L1170.51,448.0L1170.51,448.0L1172.52,448.0L1172.52,448.0L1174.54,448.0L1174.54,448.0L1176.55,448.0L1176.55,448.0L1178.57,448.0L1178.57,448.0L1180.58,448.0L1180.58,448.0L1182.60,448.0L1182.60,448.0L1184.61,448.0L1184.61,448.0L1186.63,448.0L1186.63,448.0L1188.64,448.0L1188.64,448.0L1190.66,448.0L1190.66,448.0L1192.68,448.0L1192.68,448.0L1194.69,448.0L1194.69,448.0L1196.71,448.0L1196.71,448.0L1198.72,448.0L1198.72,448.0L1200.74,448.0L1200.74,448.0L1202.75,448.0L1202.75,448.0L1204.77,448.0L1204.77,448.0L1206.78,448.0L1206.78,448.0L1208.80,448.0L1208.80,448.0L1210.81,448.0L1210.81,448.0L1212.83,448.0L1212.83,448.0L1214.84,448.0L1214.84,448.0L1216.86,448.0L1216.86,448.0L1218.87,448.0L1218.87,448.0L1220.89,448.0L1220.89,448.0L1222.90,448.0L1222.90,448.0L1224.92,448.0L1224.92,448.0L1226.94,448.0L1226.94,448.0L1228.95,448.0L1228.95,448.0L1230.97,448.0L1230.97,448.0L1232.98,448.0L1232.98,448.0L1235.00,448.0L1235.00,448.0L1237.01,448.0L1237.01,448.0L1239.03,448.0L1239.03,448.0L1241.04,448.0L1241.04,448.0L1243.06,448.0L1243.06,448.0L1245.07,448.0L1245.07,448.0L1247.09,448.0L1247.09,448.0L1249.10,448.0L1249.10,448.0L1251.12,448.0L1251.12,448.0L1253.13,448.0L1253.13,448.0L1255.15,448.0L1255.15,448.0L1257.16,448.0L1257.16,448.0L1259.18,448.0L1259.18,448.0L1261.20,448.0L1261.20,448.0L1263.21,448.0L1263.21,448.0L1265.23,448.0L1265.23,448.0L1267.24,448.0L1267.24,448.0L1269.26,448.0L1269.26,448.0L1271.27,448.0L1271.27,448.0L1273.29,448.0L1273.29,448.0L1275.30,448.0L1275.30,448.0L1277.32,448.0L1277.32,458.3L1279.33,458.3L1279.33,461.1L1281.35,461.1L1281.35,460.1L1283.36,460.1L1283.36,454.4L1285.38,454.4L1285.38,452.8L1287.39,452.8L1287.39,450.2L1289.41,450.2L1289.41,452.2L1291.42,452.2L1291.42,449.1L1293.44,449.1L1293.44,448.0L1295.46,448.0L1295.46,449.5L1297.47,449.5L1297.47,451.0L1299.49,451.0L1299.49,448.0L1301.50,448.0L1301.50,448.0L1303.52,448.0L1303.52,448.0L1305.53,448.0L1305.53,448.0L1307.55,448.0L1307.55,448.0L1309.56,448.0L1309.56,448.0L1311.58,448.0L1311.58,448.0L1313.59,448.0L1313.59,448.0L1315.61,448.0L1315.61,448.0L1317.62,448.0L1317.62,448.0L1319.64,448.0L1319.64,448.0L1321.65,448.0L1321.65,448.0L1323.67,448.0L1323.67,448.0L1325.69,448.0L1325.69,448.0L1327.70,448.0L1327.70,448.0L1329.72,448.0L1329.72,448.0L1331.73,448.0L1331.73,448.0L1333.75,448.0L1333.75,448.0L1335.76,448.0L1335.76,448.0L1337.78,448.0L1337.78,448.0L1339.79,448.0L1339.79,448.0L1341.81,448.0L1341.81,448.0L1343.82,448.0L1343.82,448.0L1345.84,448.0L1345.84,448.0L1347.85,448.0L1347.85,448.0L1349.87,448.0L1349.87,448.0L1351.88,448.0L1351.88,448.0L1353.90,448.0L1353.90,448.0L1355.91,448.0L1355.91,448.0L1357.93,448.0L1357.93,448.0L1359.95,448.0L1359.95,448.0L1361.96,448.0L1361.96,448.0L1363.98,448.0L1363.98,448.0L1365.99,448.0L1365.99,448.0L1368.01,448.0L1368.01,448.0L1370.02,448.0L1370.02,448.0L1372.04,448.0L1372.04,448.0L1374.05,448.0L1374.05,448.0L1376.07,448.0L1376.07,448.0L1378.08,448.0L1378.08,448.0L1380.10,448.0L1380.10,448.0L1382.11,448.0L1382.11,448.0L1384.13,448.0L1384.13,448.0L1386.14,448.0L1386.14,448.0L1388.16,448.0L1388.16,448.0L1388.20,448.0L1388.20,448.0Z" fill="#c00000"/>
</g>
<line x1="827.6" y1="300" x2="827.6" y2="448" stroke="#fff" stroke-opacity="0.18" stroke-width="0.8"/>
<line x1="966.8" y1="300" x2="966.8" y2="448" stroke="#fff" stroke-opacity="0.18" stroke-width="0.8"/>
<line x1="1106.4" y1="300" x2="1106.4" y2="448" stroke="#fff" stroke-opacity="0.18" stroke-width="0.8"/>
<line x1="1247.4" y1="300" x2="1247.4" y2="448" stroke="#fff" stroke-opacity="0.18" stroke-width="0.8"/>
<g stroke="#d9d9d9" stroke-width="1.3" fill="none">
<line x1="787.1" y1="448.6" x2="1388.2" y2="448.6" stroke-dasharray="1.2 0.8"/>
<line x1="787.60" y1="448.6" x2="787.60" y2="456.4"/>
<line x1="908.50" y1="448.6" x2="908.50" y2="456.4"/>
<line x1="1029.40" y1="448.6" x2="1029.40" y2="456.4"/>
<line x1="1150.30" y1="448.6" x2="1150.30" y2="456.4"/>
<line x1="1271.20" y1="448.6" x2="1271.20" y2="456.4"/>
</g>
<path d="M787.60,448.0L787.60,448.0L789.62,448.0L789.62,448.0L791.63,448.0L791.63,448.0L793.65,448.0L793.65,448.0L795.66,448.0L795.66,448.0L797.68,448.0L797.68,448.0L799.69,448.0L799.69,448.0L801.71,448.0L801.71,448.0L803.72,448.0L803.72,448.0L805.74,448.0L805.74,448.0L807.75,448.0L807.75,448.0L809.77,448.0L809.77,448.0L811.78,448.0L811.78,448.0L813.80,448.0L813.80,448.0L815.81,448.0L815.81,448.0L817.83,448.0L817.83,448.0L819.84,448.0L819.84,448.0L821.86,448.0L821.86,448.0L823.88,448.0L823.88,448.0L825.89,448.0L825.89,448.0L827.91,448.0L827.91,493.0L829.92,493.0L829.92,476.6L831.94,476.6L831.94,477.2L833.95,477.2L833.95,484.0L835.97,484.0L835.97,483.0L837.98,483.0L837.98,483.0L840.00,483.0L840.00,475.9L842.01,475.9L842.01,475.5L844.03,475.5L844.03,475.0L846.04,475.0L846.04,474.1L848.06,474.1L848.06,472.4L850.07,472.4L850.07,470.8L852.09,470.8L852.09,448.0L854.10,448.0L854.10,448.0L856.12,448.0L856.12,448.0L858.14,448.0L858.14,448.0L860.15,448.0L860.15,448.0L862.17,448.0L862.17,448.0L864.18,448.0L864.18,448.0L866.20,448.0L866.20,448.0L868.21,448.0L868.21,448.0L870.23,448.0L870.23,448.0L872.24,448.0L872.24,448.0L874.26,448.0L874.26,448.0L876.27,448.0L876.27,448.0L878.29,448.0L878.29,448.0L880.30,448.0L880.30,448.0L882.32,448.0L882.32,448.0L884.33,448.0L884.33,448.0L886.35,448.0L886.35,448.0L888.37,448.0L888.37,448.0L890.38,448.0L890.38,448.0L892.40,448.0L892.40,448.0L894.41,448.0L894.41,448.0L896.43,448.0L896.43,448.0L898.44,448.0L898.44,448.0L900.46,448.0L900.46,448.0L902.47,448.0L902.47,448.0L904.49,448.0L904.49,448.0L906.50,448.0L906.50,448.0L908.52,448.0L908.52,448.0L910.53,448.0L910.53,448.0L912.55,448.0L912.55,448.0L914.56,448.0L914.56,448.0L916.58,448.0L916.58,448.0L918.59,448.0L918.59,448.0L920.61,448.0L920.61,448.0L922.63,448.0L922.63,448.0L924.64,448.0L924.64,448.0L926.66,448.0L926.66,448.0L928.67,448.0L928.67,448.0L930.69,448.0L930.69,448.0L932.70,448.0L932.70,448.0L934.72,448.0L934.72,448.0L936.73,448.0L936.73,448.0L938.75,448.0L938.75,448.0L940.76,448.0L940.76,448.0L942.78,448.0L942.78,448.0L944.79,448.0L944.79,448.0L946.81,448.0L946.81,448.0L948.82,448.0L948.82,448.0L950.84,448.0L950.84,448.0L952.85,448.0L952.85,448.0L954.87,448.0L954.87,448.0L956.89,448.0L956.89,448.0L958.90,448.0L958.90,448.0L960.92,448.0L960.92,448.0L962.93,448.0L962.93,448.0L964.95,448.0L964.95,448.0L966.96,448.0L966.96,448.0L968.98,448.0L968.98,448.0L970.99,448.0L970.99,448.0L973.01,448.0L973.01,448.0L975.02,448.0L975.02,448.0L977.04,448.0L977.04,448.0L979.05,448.0L979.05,448.0L981.07,448.0L981.07,448.0L983.08,448.0L983.08,448.0L985.10,448.0L985.10,448.0L987.11,448.0L987.11,448.0L989.13,448.0L989.13,448.0L991.15,448.0L991.15,448.0L993.16,448.0L993.16,448.0L995.18,448.0L995.18,448.0L997.19,448.0L997.19,448.0L999.21,448.0L999.21,448.0L1001.22,448.0L1001.22,448.0L1003.24,448.0L1003.24,451.0L1005.25,451.0L1005.25,448.0L1007.27,448.0L1007.27,448.0L1009.28,448.0L1009.28,448.0L1011.30,448.0L1011.30,451.4L1013.31,451.4L1013.31,454.1L1015.33,454.1L1015.33,453.7L1017.34,453.7L1017.34,451.6L1019.36,451.6L1019.36,449.3L1021.37,449.3L1021.37,448.0L1023.39,448.0L1023.39,448.0L1025.41,448.0L1025.41,448.0L1027.42,448.0L1027.42,448.0L1029.44,448.0L1029.44,448.0L1031.45,448.0L1031.45,448.0L1033.47,448.0L1033.47,448.0L1035.48,448.0L1035.48,448.0L1037.50,448.0L1037.50,448.0L1039.51,448.0L1039.51,448.0L1041.53,448.0L1041.53,448.0L1043.54,448.0L1043.54,448.0L1045.56,448.0L1045.56,448.0L1047.57,448.0L1047.57,448.0L1049.59,448.0L1049.59,448.0L1051.60,448.0L1051.60,448.0L1053.62,448.0L1053.62,448.0L1055.63,448.0L1055.63,448.0L1057.65,448.0L1057.65,448.0L1059.67,448.0L1059.67,448.0L1061.68,448.0L1061.68,448.0L1063.70,448.0L1063.70,448.0L1065.71,448.0L1065.71,448.0L1067.73,448.0L1067.73,448.0L1069.74,448.0L1069.74,448.0L1071.76,448.0L1071.76,448.0L1073.77,448.0L1073.77,448.0L1075.79,448.0L1075.79,448.0L1077.80,448.0L1077.80,448.0L1079.82,448.0L1079.82,448.0L1081.83,448.0L1081.83,448.0L1083.85,448.0L1083.85,448.0L1085.86,448.0L1085.86,448.0L1087.88,448.0L1087.88,448.0L1089.89,448.0L1089.89,448.0L1091.91,448.0L1091.91,448.0L1093.93,448.0L1093.93,448.0L1095.94,448.0L1095.94,448.0L1097.96,448.0L1097.96,448.0L1099.97,448.0L1099.97,448.0L1101.99,448.0L1101.99,448.0L1104.00,448.0L1104.00,448.0L1106.02,448.0L1106.02,448.0L1108.03,448.0L1108.03,448.0L1110.05,448.0L1110.05,448.0L1112.06,448.0L1112.06,448.0L1114.08,448.0L1114.08,448.0L1116.09,448.0L1116.09,448.0L1118.11,448.0L1118.11,448.0L1120.12,448.0L1120.12,448.0L1122.14,448.0L1122.14,448.0L1124.16,448.0L1124.16,448.0L1126.17,448.0L1126.17,448.0L1128.19,448.0L1128.19,448.0L1130.20,448.0L1130.20,448.0L1132.22,448.0L1132.22,448.0L1134.23,448.0L1134.23,448.0L1136.25,448.0L1136.25,448.0L1138.26,448.0L1138.26,448.0L1140.28,448.0L1140.28,448.0L1142.29,448.0L1142.29,448.0L1144.31,448.0L1144.31,448.0L1146.32,448.0L1146.32,448.0L1148.34,448.0L1148.34,448.0L1150.35,448.0L1150.35,448.0L1152.37,448.0L1152.37,448.0L1154.38,448.0L1154.38,448.0L1156.40,448.0L1156.40,448.0L1158.42,448.0L1158.42,448.0L1160.43,448.0L1160.43,448.0L1162.45,448.0L1162.45,448.0L1164.46,448.0L1164.46,448.0L1166.48,448.0L1166.48,448.0L1168.49,448.0L1168.49,448.0L1170.51,448.0L1170.51,448.0L1172.52,448.0L1172.52,448.0L1174.54,448.0L1174.54,448.0L1176.55,448.0L1176.55,448.0L1178.57,448.0L1178.57,448.0L1180.58,448.0L1180.58,448.0L1182.60,448.0L1182.60,448.0L1184.61,448.0L1184.61,448.0L1186.63,448.0L1186.63,448.0L1188.64,448.0L1188.64,448.0L1190.66,448.0L1190.66,448.0L1192.68,448.0L1192.68,448.0L1194.69,448.0L1194.69,448.0L1196.71,448.0L1196.71,448.0L1198.72,448.0L1198.72,448.0L1200.74,448.0L1200.74,448.0L1202.75,448.0L1202.75,448.0L1204.77,448.0L1204.77,448.0L1206.78,448.0L1206.78,448.0L1208.80,448.0L1208.80,448.0L1210.81,448.0L1210.81,448.0L1212.83,448.0L1212.83,448.0L1214.84,448.0L1214.84,448.0L1216.86,448.0L1216.86,448.0L1218.87,448.0L1218.87,448.0L1220.89,448.0L1220.89,448.0L1222.90,448.0L1222.90,448.0L1224.92,448.0L1224.92,448.0L1226.94,448.0L1226.94,448.0L1228.95,448.0L1228.95,448.0L1230.97,448.0L1230.97,448.0L1232.98,448.0L1232.98,448.0L1235.00,448.0L1235.00,448.0L1237.01,448.0L1237.01,448.0L1239.03,448.0L1239.03,448.0L1241.04,448.0L1241.04,448.0L1243.06,448.0L1243.06,448.0L1245.07,448.0L1245.07,448.0L1247.09,448.0L1247.09,448.0L1249.10,448.0L1249.10,448.0L1251.12,448.0L1251.12,448.0L1253.13,448.0L1253.13,448.0L1255.15,448.0L1255.15,448.0L1257.16,448.0L1257.16,448.0L1259.18,448.0L1259.18,448.0L1261.20,448.0L1261.20,448.0L1263.21,448.0L1263.21,448.0L1265.23,448.0L1265.23,448.0L1267.24,448.0L1267.24,448.0L1269.26,448.0L1269.26,448.0L1271.27,448.0L1271.27,448.0L1273.29,448.0L1273.29,448.0L1275.30,448.0L1275.30,448.0L1277.32,448.0L1277.32,458.3L1279.33,458.3L1279.33,461.1L1281.35,461.1L1281.35,460.1L1283.36,460.1L1283.36,454.4L1285.38,454.4L1285.38,452.8L1287.39,452.8L1287.39,450.2L1289.41,450.2L1289.41,452.2L1291.42,452.2L1291.42,449.1L1293.44,449.1L1293.44,448.0L1295.46,448.0L1295.46,449.5L1297.47,449.5L1297.47,451.0L1299.49,451.0L1299.49,448.0L1301.50,448.0L1301.50,448.0L1303.52,448.0L1303.52,448.0L1305.53,448.0L1305.53,448.0L1307.55,448.0L1307.55,448.0L1309.56,448.0L1309.56,448.0L1311.58,448.0L1311.58,448.0L1313.59,448.0L1313.59,448.0L1315.61,448.0L1315.61,448.0L1317.62,448.0L1317.62,448.0L1319.64,448.0L1319.64,448.0L1321.65,448.0L1321.65,448.0L1323.67,448.0L1323.67,448.0L1325.69,448.0L1325.69,448.0L1327.70,448.0L1327.70,448.0L1329.72,448.0L1329.72,448.0L1331.73,448.0L1331.73,448.0L1333.75,448.0L1333.75,448.0L1335.76,448.0L1335.76,448.0L1337.78,448.0L1337.78,448.0L1339.79,448.0L1339.79,448.0L1341.81,448.0L1341.81,448.0L1343.82,448.0L1343.82,448.0L1345.84,448.0L1345.84,448.0L1347.85,448.0L1347.85,448.0L1349.87,448.0L1349.87,448.0L1351.88,448.0L1351.88,448.0L1353.90,448.0L1353.90,448.0L1355.91,448.0L1355.91,448.0L1357.93,448.0L1357.93,448.0L1359.95,448.0L1359.95,448.0L1361.96,448.0L1361.96,448.0L1363.98,448.0L1363.98,448.0L1365.99,448.0L1365.99,448.0L1368.01,448.0L1368.01,448.0L1370.02,448.0L1370.02,448.0L1372.04,448.0L1372.04,448.0L1374.05,448.0L1374.05,448.0L1376.07,448.0L1376.07,448.0L1378.08,448.0L1378.08,448.0L1380.10,448.0L1380.10,448.0L1382.11,448.0L1382.11,448.0L1384.13,448.0L1384.13,448.0L1386.14,448.0L1386.14,448.0L1388.16,448.0L1388.16,448.0L1388.20,448.0L1388.20,448.0Z" fill="#c00000" shape-rendering="crispEdges"/>
<rect x="823.2" y="26.3" width="16.5" height="15.4" fill="#000"/>
<rect x="823.2" y="65.8" width="16.5" height="15.4" fill="#ffc000"/>
<rect x="823.2" y="105.3" width="16.5" height="15.4" fill="#c00000"/>
<g style="will-change:transform">
<text x="142.13" y="30.60" textLength="43.84" lengthAdjust="spacingAndGlyphs">U.S.</text>
<text x="190.73" y="30.60" textLength="65.73" lengthAdjust="spacingAndGlyphs">Hiring</text>
<text x="262.24" y="30.60" textLength="55.42" lengthAdjust="spacingAndGlyphs">Rate,</text>
<text x="324.00" y="30.60" textLength="42.90" lengthAdjust="spacingAndGlyphs">3-m</text>
<text x="373.30" y="30.60" textLength="38.01" lengthAdjust="spacingAndGlyphs">MA</text>
<text x="418.59" y="30.60" textLength="31.62" lengthAdjust="spacingAndGlyphs">(ls)</text>
<text x="142.13" y="78.20" textLength="43.84" lengthAdjust="spacingAndGlyphs">U.S.</text>
<text x="190.98" y="78.20" textLength="76.52" lengthAdjust="spacingAndGlyphs">Layoffs</text>
<text x="274.41" y="78.20" textLength="17.22" lengthAdjust="spacingAndGlyphs">&amp;</text>
<text x="298.21" y="78.20" textLength="105.47" lengthAdjust="spacingAndGlyphs">Discharge</text>
<text x="409.75" y="78.20" textLength="55.95" lengthAdjust="spacingAndGlyphs">Rate,</text>
<text x="471.84" y="78.20" textLength="43.36" lengthAdjust="spacingAndGlyphs">3-m</text>
<text x="520.84" y="78.20" textLength="37.56" lengthAdjust="spacingAndGlyphs">MA</text>
<text x="565.69" y="78.20" textLength="36.26" lengthAdjust="spacingAndGlyphs">(rs)</text>
<text x="15.15" y="91.60" font-size="22.2" textLength="33.23" lengthAdjust="spacingAndGlyphs">4.7</text>
<text x="15.15" y="134.60" font-size="22.2" textLength="33.11" lengthAdjust="spacingAndGlyphs">4.5</text>
<text x="15.15" y="177.60" font-size="22.2" textLength="33.13" lengthAdjust="spacingAndGlyphs">4.3</text>
<text x="15.15" y="220.60" font-size="22.2" textLength="33.15" lengthAdjust="spacingAndGlyphs">4.1</text>
<text x="14.57" y="263.60" font-size="22.2" textLength="33.82" lengthAdjust="spacingAndGlyphs">3.9</text>
<text x="14.57" y="306.60" font-size="22.2" textLength="33.83" lengthAdjust="spacingAndGlyphs">3.7</text>
<text x="14.57" y="349.60" font-size="22.2" textLength="33.72" lengthAdjust="spacingAndGlyphs">3.5</text>
<text x="14.57" y="392.60" font-size="22.2" textLength="33.74" lengthAdjust="spacingAndGlyphs">3.3</text>
<text x="14.57" y="435.60" font-size="22.2" textLength="33.80" lengthAdjust="spacingAndGlyphs">3.1</text>
<text x="14.49" y="478.60" font-size="22.2" textLength="33.90" lengthAdjust="spacingAndGlyphs">2.9</text>
<text x="14.49" y="521.60" font-size="22.2" textLength="33.91" lengthAdjust="spacingAndGlyphs">2.7</text>
<text x="645.84" y="91.60" font-size="22.2" textLength="13.16" lengthAdjust="spacingAndGlyphs">2</text>
<text x="644.00" y="163.27" font-size="22.2" textLength="34.67" lengthAdjust="spacingAndGlyphs">1.8</text>
<text x="644.00" y="234.93" font-size="22.2" textLength="34.76" lengthAdjust="spacingAndGlyphs">1.6</text>
<text x="644.00" y="306.60" font-size="22.2" textLength="34.47" lengthAdjust="spacingAndGlyphs">1.4</text>
<text x="644.00" y="378.27" font-size="22.2" textLength="34.80" lengthAdjust="spacingAndGlyphs">1.2</text>
<text x="645.89" y="449.94" font-size="22.2" textLength="13.04" lengthAdjust="spacingAndGlyphs">1</text>
<rect x="647.6" y="448.19" width="10.0" height="1.75" fill="#000"/>
<text x="645.00" y="521.60" font-size="22.2" textLength="33.68" lengthAdjust="spacingAndGlyphs">0.8</text>
<text x="36.12" y="555.40" textLength="77.24" lengthAdjust="spacingAndGlyphs">Dec-00</text>
<text x="150.44" y="555.40" textLength="77.27" lengthAdjust="spacingAndGlyphs">Dec-05</text>
<text x="264.75" y="555.40" textLength="77.15" lengthAdjust="spacingAndGlyphs">Dec-10</text>
<text x="378.95" y="555.40" textLength="77.28" lengthAdjust="spacingAndGlyphs">Dec-15</text>
<text x="493.12" y="555.40" textLength="77.24" lengthAdjust="spacingAndGlyphs">Dec-20</text>
<text x="845.00" y="40.60" textLength="24.44" lengthAdjust="spacingAndGlyphs">SF</text>
<text x="876.00" y="40.60" textLength="39.11" lengthAdjust="spacingAndGlyphs">Fed</text>
<text x="920.96" y="40.60" textLength="50.79" lengthAdjust="spacingAndGlyphs">Core</text>
<text x="978.45" y="40.60" textLength="49.14" lengthAdjust="spacingAndGlyphs">PCE:</text>
<text x="1032.85" y="40.60" textLength="121.90" lengthAdjust="spacingAndGlyphs">Ambiguous</text>
<text x="845.00" y="80.20" textLength="24.44" lengthAdjust="spacingAndGlyphs">SF</text>
<text x="876.00" y="80.20" textLength="39.11" lengthAdjust="spacingAndGlyphs">Fed</text>
<text x="920.96" y="80.20" textLength="50.79" lengthAdjust="spacingAndGlyphs">Core</text>
<text x="978.45" y="80.20" textLength="49.14" lengthAdjust="spacingAndGlyphs">PCE:</text>
<text x="1031.67" y="80.20" textLength="151.07" lengthAdjust="spacingAndGlyphs">Supply-driven</text>
<text x="1187.32" y="80.20" textLength="91.52" lengthAdjust="spacingAndGlyphs">Inflation</text>
<text x="845.00" y="119.80" textLength="24.44" lengthAdjust="spacingAndGlyphs">SF</text>
<text x="876.00" y="119.80" textLength="39.11" lengthAdjust="spacingAndGlyphs">Fed</text>
<text x="920.96" y="119.80" textLength="50.79" lengthAdjust="spacingAndGlyphs">Core</text>
<text x="978.45" y="119.80" textLength="49.14" lengthAdjust="spacingAndGlyphs">PCE:</text>
<text x="1031.87" y="119.80" textLength="169.56" lengthAdjust="spacingAndGlyphs">Demand-driven</text>
<text x="1206.61" y="119.80" textLength="91.72" lengthAdjust="spacingAndGlyphs">Inflation</text>
<text x="749.19" y="22.80" font-size="22.2" textLength="14.14" lengthAdjust="spacingAndGlyphs">6</text>
<text x="749.15" y="94.97" font-size="22.2" textLength="14.16" lengthAdjust="spacingAndGlyphs">5</text>
<text x="750.08" y="167.14" font-size="22.2" textLength="12.76" lengthAdjust="spacingAndGlyphs">4</text>
<text x="749.34" y="239.31" font-size="22.2" textLength="14.05" lengthAdjust="spacingAndGlyphs">3</text>
<text x="749.19" y="311.48" font-size="22.2" textLength="14.18" lengthAdjust="spacingAndGlyphs">2</text>
<text x="750.55" y="383.65" font-size="22.2" textLength="13.03" lengthAdjust="spacingAndGlyphs">1</text>
<rect x="752.5" y="381.90" width="10.0" height="1.75" fill="#000"/>
<text x="749.60" y="455.82" font-size="22.2" textLength="13.47" lengthAdjust="spacingAndGlyphs">0</text>
<text x="741.03" y="527.99" font-size="22.2" textLength="8.82" lengthAdjust="spacingAndGlyphs">-</text>
<text x="750.09" y="527.99" font-size="22.2" textLength="13.06" lengthAdjust="spacingAndGlyphs">1</text>
<rect x="751.8" y="526.24" width="9.8" height="1.75" fill="#000"/>
<text x="753.38" y="562.30" textLength="70.35" lengthAdjust="spacingAndGlyphs">Jan-00</text>
<text x="874.27" y="562.30" textLength="70.47" lengthAdjust="spacingAndGlyphs">Jan-05</text>
<text x="995.15" y="562.30" textLength="70.30" lengthAdjust="spacingAndGlyphs">Jan-10</text>
<text x="1116.03" y="562.30" textLength="70.50" lengthAdjust="spacingAndGlyphs">Jan-15</text>
<text x="1236.91" y="562.30" textLength="70.35" lengthAdjust="spacingAndGlyphs">Jan-20</text>
</g>
</svg></body></html>
